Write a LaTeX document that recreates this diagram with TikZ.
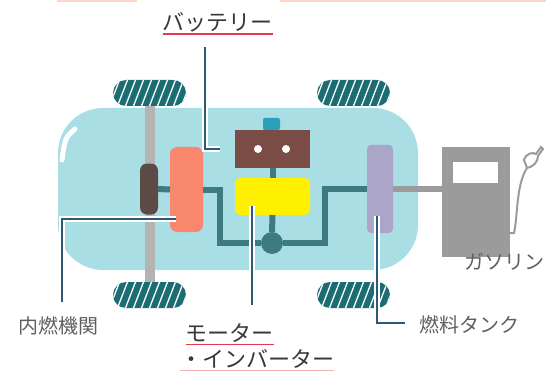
\documentclass[tikz,border=0pt]{standalone}
\usepackage{fontspec}
\usepackage{tikz}
\usetikzlibrary{positioning}
\newfontfamily\jp{Noto Sans CJK JP}
\definecolor{bodyblue}{RGB}{170, 222, 229}
\definecolor{wheelteal}{RGB}{28, 108, 116}
\definecolor{axlegrey}{RGB}{180, 180, 180}
\definecolor{enginebrown}{RGB}{92, 74, 71}
\definecolor{icesalmon}{RGB}{249, 135, 109}
\definecolor{battbrown}{RGB}{123, 76, 70}
\definecolor{capblue}{RGB}{42, 161, 186}
\definecolor{motoryellow}{RGB}{255, 240, 0}
\definecolor{tanklilac}{RGB}{171, 165, 200}
\definecolor{pipeteal}{RGB}{62, 122, 130}
\definecolor{pumpgrey}{RGB}{155, 155, 155}
\definecolor{leadblue}{RGB}{47, 88, 118}
\definecolor{labelgrey}{RGB}{95, 95, 95}
\definecolor{headgrey}{RGB}{55, 55, 55}
\definecolor{linered}{RGB}{226, 58, 70}
\definecolor{toporange}{RGB}{252, 214, 196}

\begin{document}
\begin{tikzpicture}[
    x=1pt, y=-1pt,
    every node/.style={inner sep=0pt, outer sep=0pt},
    wheel/.style={rectangle, rounded corners=13pt, minimum width=73pt, minimum height=26pt, fill=wheelteal,
        path picture={\foreach \k in {-48,-40,...,40} \draw[white, line width=1.3pt] ([xshift=\k pt]path picture bounding box.south) -- ++(10pt,26pt);}},
    part/.style={rectangle, rounded corners=7pt},
    pipe/.style={draw=pipeteal, line width=6pt},
    leader/.style={draw=leadblue, line width=2.5pt, preaction={draw=white, line width=6pt}},
    lbl/.style={font=\jp\fontsize{20}{24}\selectfont, text=labelgrey},
    head/.style={font=\jp\fontsize{22}{26}\selectfont, text=headgrey},
    uline/.style={draw=linered, line width=1.5pt}
]
\useasboundingbox (0,0) rectangle (546,377);

% faint rule along the top edge
\draw[toporange, line width=2pt] (57,1) -- (137,1);
\draw[toporange, line width=2pt] (280,1) -- (546,1);

% car body
\fill[bodyblue, rounded corners=45pt] (58,108) rectangle (418,270);
\draw[white, line width=5pt, line cap=round] (75,129) .. controls (65,138) .. (62,160);

% wheels and front axle
\node[wheel] (wheelFL) at (149.5,93) {};
\node[wheel] (wheelFR) at (353.5,93) {};
\node[wheel] (wheelRL) at (149.5,295) {};
\node[wheel] (wheelRR) at (353.5,295) {};
\draw[axlegrey, line width=10pt] (wheelFL.south) -- (wheelRL.north);

% drive train parts
\node[part, fill=enginebrown, minimum width=18pt, minimum height=51pt] (engine) at (149,189) {};
\node[part, fill=icesalmon, minimum width=33pt, minimum height=85pt] (ice) at (186.5,189.5) {};
\node[rectangle, fill=battbrown, minimum width=75pt, minimum height=38pt] (batt) at (272.5,149) {};
\node[rectangle, rounded corners=2pt, fill=capblue, minimum width=17pt, minimum height=12pt] (cap) at (271.5,124) {};
\node[circle, fill=white, minimum size=8pt] (dotL) at (258,149) {};
\node[circle, fill=white, minimum size=8pt] (dotR) at (286,149) {};
\node[part, rounded corners=5pt, fill=motoryellow, minimum width=75pt, minimum height=37pt] (motor) at (272.5,196.5) {};
\node[circle, fill=pipeteal, minimum size=22pt] (jct) at (272,243) {};
\node[part, rounded corners=4pt, fill=tanklilac, minimum width=26pt, minimum height=88pt] (tank) at (380,189) {};

% fuel pump
\node[rectangle, fill=pumpgrey, minimum width=68pt, minimum height=110pt] (pump) at (476,202) {};
\node[rectangle, fill=white, minimum width=45pt, minimum height=21pt] (window) at (475.5,172.5) {};
\coordinate (nozzle) at (527,168);
\draw[pumpgrey, line width=2pt] ([yshift=-31pt]pump.east) -- ++(4,0) .. controls (518,215) and (516,185) .. (nozzle);
\draw[pumpgrey, line width=2pt, fill=white] (nozzle) -- (524,160) .. controls (526,153) and (533,152) .. (536,154) -- (541,147) -- (543,149) -- (538,156) .. controls (538,162) and (533,167) .. (nozzle);

% pipes
\draw[pipe] (engine.east) -- (ice.west);
\draw[pipe] (ice.east) -- ++(17,0) |- (jct);
\draw[pipe] (jct.east) -- ++(42,0) |- (tank.west);
\draw[pipe] (batt.south) -- (motor.north);
\draw[pipe] (motor.south) -- (jct.north);
\draw[pumpgrey, line width=6pt] (tank.east) -- (tank.east -| pump.west);

% leader lines
\coordinate (battTop) at (205,47);
\coordinate (iceTip) at (176,219);
\coordinate (iceFoot) at (62,302);
\coordinate (motTip) at (252,206);
\coordinate (motFoot) at (252,305);
\coordinate (tankTip) at (377,216);
\coordinate (tankFoot) at (405,323);
\draw[leader] (battTop) |- ([xshift=-15pt]batt.west);
\draw[leader] (iceTip) -| (iceFoot);
\draw[leader] (motTip) -- (motFoot);
\draw[leader] (tankTip) |- (tankFoot);

% labels
\node[head] (battLbl) at (217.5,22) {バッテリー};
\node[head] (motLbl) at (229.5,333) {モーター};
\node[head, anchor=west] (invLbl) at (180,359) {・インバーター};
\node[lbl] (iceLbl) at (58,326) {内燃機関};
\node[lbl] (tankLbl) at (469,325) {燃料タンク};
\node[lbl, anchor=east] (gasLbl) at (544,262) {ガソリン};
\draw[uline] ([yshift=-2pt]battLbl.south west) -- ([yshift=-2pt]battLbl.south east);
\draw[uline] ([yshift=-2pt]motLbl.south west) -- ([yshift=-2pt]motLbl.south east);
\draw[uline, linered!40] ([yshift=-2pt]invLbl.south west) -- ([yshift=-2pt]invLbl.south east);

\end{tikzpicture}
\end{document}
